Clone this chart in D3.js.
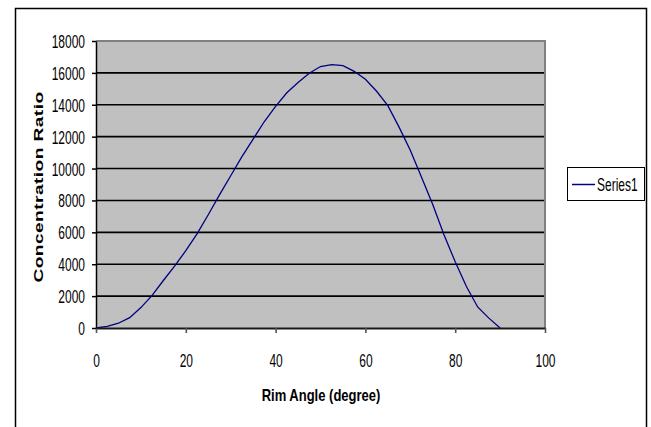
<!DOCTYPE html>
<html lang="en">
<head>
<meta charset="UTF-8">
<title>Concentration Ratio vs Rim Angle</title>
<script src="https://d3js.org/d3.v7.min.js"></script>
<style>
    body { margin: 0; padding: 0; background: #fff; }
    svg { display: block; font-family: 'Liberation Sans', Arial, sans-serif; }
</style>
</head>
<body>
<div id="chart"></div>
<script>
// data
var rimAngle = [0, 2.5, 5, 7.5, 10, 12.5, 15, 17.5, 20, 22.5, 25, 27.5, 30, 32.5, 35, 37.5,
    40, 42.5, 45, 47.5, 50, 52.5, 55, 57.5, 60, 62.5, 65, 67.5, 70, 72.5, 75, 77.5,
    80, 82.5, 85, 87.5, 90];
var concRatio = [0, 100, 300, 650, 1280, 2050, 2980, 3880, 4850, 5900, 7100, 8350, 9550, 10750, 11850, 12950,
    13900, 14750, 15400, 15980, 16400, 16520, 16450, 16100, 15600, 14850, 13950, 12600, 11150, 9450, 7750, 5850,
    4150, 2600, 1320, 620, 0];
var xTicks = [0, 20, 40, 60, 80, 100];
var yTicks = [0, 2000, 4000, 6000, 8000, 10000, 12000, 14000, 16000, 18000];
var seriesName = "Series1";

var width = 651, height = 427;
var plotLeft = 96, plotRight = 545, plotTop = 41, plotBottom = 328;

var svg = d3.select("#chart").append("svg")
    .attr("width", width)
    .attr("height", height);

svg.append("rect").attr("width", width).attr("height", height).attr("fill", "#fff");

// outer chart border (runs off the bottom)
svg.append("rect")
    .attr("x", 15.5).attr("y", 8.5)
    .attr("width", 631).attr("height", 440)
    .attr("fill", "none")
    .attr("stroke", "#000")
    .attr("stroke-width", 1.5);

var x = d3.scaleLinear().domain([0, 100]).range([plotLeft, plotRight]);
var y = d3.scaleLinear().domain([0, 18000]).range([plotBottom, plotTop]);

// plot area
svg.append("rect")
    .attr("x", plotLeft).attr("y", plotTop)
    .attr("width", plotRight - plotLeft).attr("height", plotBottom - plotTop)
    .attr("fill", "#c0c0c0");

// gridlines
svg.append("g").selectAll("line")
    .data(yTicks.filter(d => d > 0 && d < 18000))
    .enter().append("line")
    .attr("x1", plotLeft).attr("x2", plotRight)
    .attr("y1", d => y(d)).attr("y2", d => y(d))
    .attr("stroke", "#000")
    .attr("stroke-width", 1.6);

// grey top and right frame
svg.append("path")
    .attr("d", "M" + plotLeft + "," + y(18000) + "H" + x(100) + "V" + y(0))
    .attr("fill", "none")
    .attr("stroke", "#808080")
    .attr("stroke-width", 2);

// series line
var line = d3.line()
    .x((d, i) => x(rimAngle[i]))
    .y(d => y(d));

svg.append("path")
    .datum(concRatio)
    .attr("d", line)
    .attr("fill", "none")
    .attr("stroke", "#000080")
    .attr("stroke-width", 1.3);

// axes
var xAxis = svg.append("g")
    .attr("transform", "translate(0," + plotBottom + ")")
    .call(d3.axisBottom(x).tickValues(xTicks).tickSize(5).tickSizeOuter(0));
xAxis.select(".domain").attr("stroke", "#1a1a1a").attr("stroke-width", 2);
xAxis.selectAll(".tick line").attr("stroke", "#555").attr("stroke-width", 1.6);
xAxis.selectAll("text")
    .attr("y", 0).attr("dy", 0)
    .attr("transform", "translate(0,39) scale(1,1.5)")
    .attr("font-size", 12)
    .attr("font-family", "'Liberation Sans', Arial, sans-serif")
    .attr("fill", "#000");

var yAxis = svg.append("g")
    .attr("transform", "translate(" + plotLeft + ",0)")
    .call(d3.axisLeft(y).tickValues(yTicks).tickSize(4).tickSizeOuter(0).tickFormat(d3.format("d")));
yAxis.select(".domain").attr("stroke", "#000").attr("stroke-width", 1.5);
yAxis.selectAll(".tick line").attr("stroke", "#000").attr("stroke-width", 1.5);
yAxis.selectAll("text")
    .attr("x", 0).attr("dy", 0)
    .attr("transform", "translate(-11,6.5) scale(1,1.5)")
    .attr("font-size", 12)
    .attr("font-family", "'Liberation Sans', Arial, sans-serif")
    .attr("fill", "#000");

// axis titles
svg.append("text")
    .attr("transform", "translate(321,401) scale(1,1.3)")
    .attr("text-anchor", "middle")
    .attr("font-size", 13)
    .attr("font-weight", "bold")
    .text("Rim Angle (degree)");

svg.append("text")
    .attr("transform", "translate(43,187) rotate(-90) scale(1.42,1)")
    .attr("text-anchor", "middle")
    .attr("font-size", 13.5)
    .attr("font-weight", "bold")
    .attr("letter-spacing", 0.3)
    .text("Concentration Ratio");

// legend
var legend = svg.append("g").attr("transform", "translate(567,167)");
legend.append("rect")
    .attr("x", 0.5).attr("y", 0.5)
    .attr("width", 77).attr("height", 33)
    .attr("fill", "#fff")
    .attr("stroke", "#000")
    .attr("stroke-width", 1);
legend.append("line")
    .attr("x1", 5).attr("x2", 28)
    .attr("y1", 17.5).attr("y2", 17.5)
    .attr("stroke", "#000080")
    .attr("stroke-width", 1.5);
legend.append("text")
    .attr("transform", "translate(30,23.5) scale(1,1.5)")
    .attr("font-size", 12)
    .text(seriesName);
</script>
</body>
</html>
